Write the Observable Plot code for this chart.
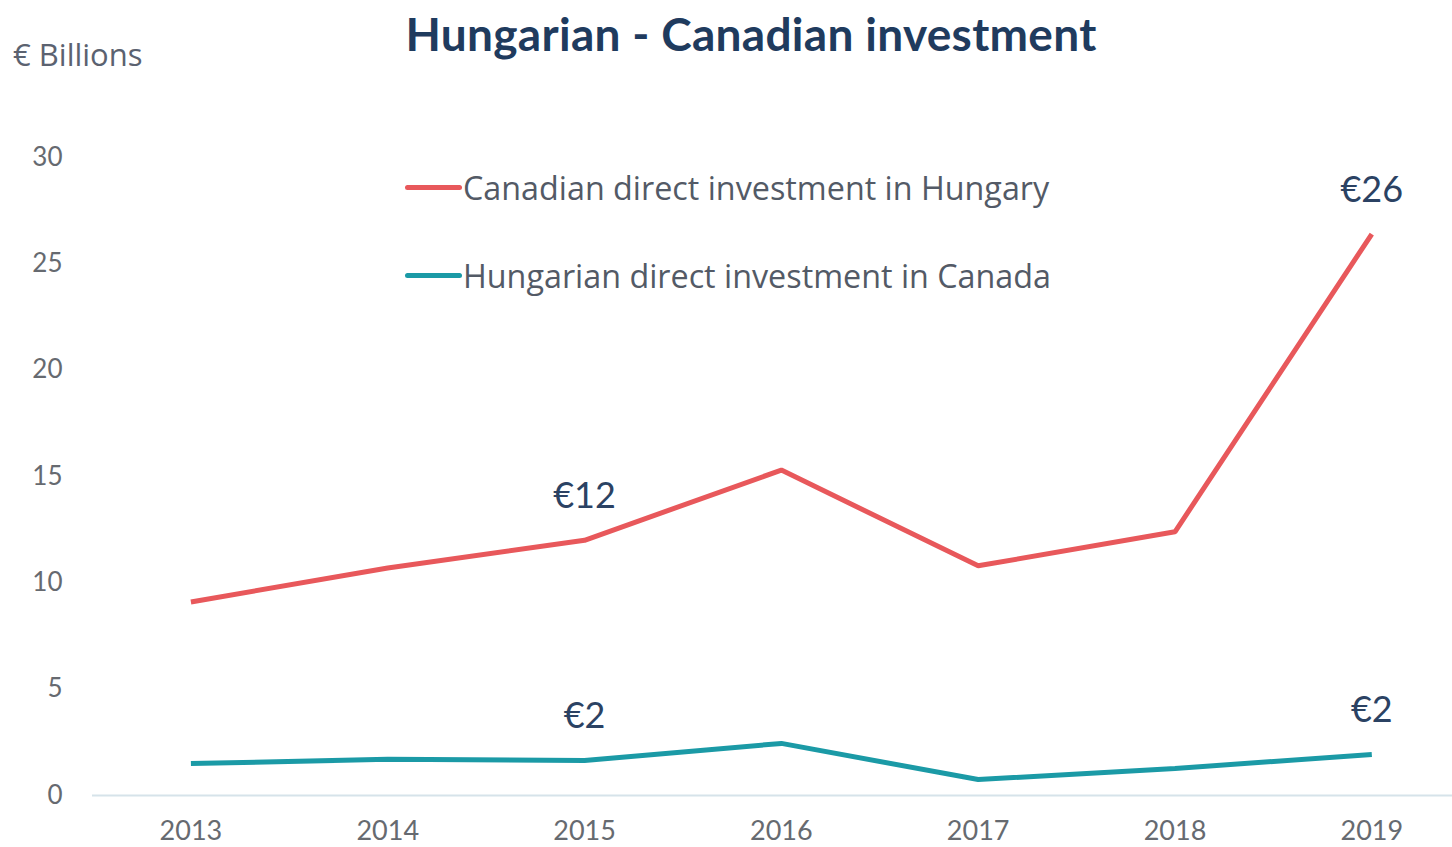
<!DOCTYPE html>
<html>
<head>
<meta charset="utf-8">
<script src="https://cdn.jsdelivr.net/npm/d3@7"></script>
<script src="https://cdn.jsdelivr.net/npm/@observablehq/plot@0.6"></script>
<style>
  body { margin: 0; background: #fff; }
  #wrap { position: relative; width: 1452px; height: 847px; overflow: hidden; font-family: Lato, "Open Sans", sans-serif; }
  #wrap svg { position: absolute; left: 0; top: 0; }
  .title { position: absolute; left: 0; width: 1502px; top: 6px; text-align: center; font-size: 46px; font-weight: 700; color: #1f3b5e; letter-spacing: 0.3px; }
  .ylab { position: absolute; left: 13px; top: 33px; font-family: "Open Sans", sans-serif; font-size: 31px; color: #5b6270; }
  .leg { position: absolute; left: 405px; display: flex; align-items: center; font-family: "Open Sans", sans-serif; font-size: 32.3px; color: #535a66; }
  .leg span.sw { display: inline-block; width: 57px; height: 5px; border-radius: 3px; margin-right: 1px; }
</style>
</head>
<body>
<div id="wrap">
  <div class="title">Hungarian - Canadian investment</div>
  <div class="ylab">€ Billions</div>
</div>
<script>
const years = [2013, 2014, 2015, 2016, 2017, 2018, 2019];
const canadianInHungary = [9.1, 10.7, 12.0, 15.3, 10.8, 12.4, 26.4];
const hungarianInCanada = [1.5, 1.7, 1.65, 2.45, 0.75, 1.27, 1.93];
const seriesNames = ["Canadian direct investment in Hungary", "Hungarian direct investment in Canada"];
const seriesColors = ["#e8585b", "#1b9aa6"];
const yTicks = [0, 5, 10, 15, 20, 25, 30];
// value labels: series index, year, text
const annotSeries = [0, 0, 1, 1];
const annotYears = [2015, 2019, 2015, 2019];
const annotText = ["€12", "€26", "€2", "€2"];

const rows = [];
years.forEach((yr, i) => {
  rows.push({year: yr, value: canadianInHungary[i], series: seriesNames[0]});
  rows.push({year: yr, value: hungarianInCanada[i], series: seriesNames[1]});
});
const seriesValues = [canadianInHungary, hungarianInCanada];
const annots = annotText.map((t, i) => ({
  year: annotYears[i],
  value: seriesValues[annotSeries[i]][years.indexOf(annotYears[i])],
  text: t
}));

const chart = Plot.plot({
  width: 1452,
  height: 847,
  marginLeft: 92,
  marginRight: 0,
  marginTop: 157,
  marginBottom: 52,
  style: {fontFamily: "Lato, 'Open Sans', sans-serif", background: "transparent"},
  x: {domain: [2012.5, 2019.41], ticks: years, tickFormat: d => String(d), tickSize: 0, tickPadding: 25, label: null},
  y: {domain: [0, 30], ticks: yTicks, tickSize: 0, tickPadding: 30, label: null},
  color: {domain: seriesNames, range: seriesColors},
  marks: [
    Plot.ruleY([0], {stroke: "#d6e3ea", strokeWidth: 2}),
    Plot.axisX({ticks: years, tickFormat: d => String(d), tickSize: 0, tickPadding: 25, fontSize: 27, fill: "#666a70", label: null}),
    Plot.axisY({ticks: yTicks, tickSize: 0, tickPadding: 30, fontSize: 26, fill: "#666a70", label: null}),
    Plot.line(rows, {x: "year", y: "value", z: "series", stroke: "series", strokeWidth: 5, strokeLinejoin: "miter", strokeLinecap: "butt"}),
    Plot.text(annots, {x: "year", y: "value", text: "text", dy: -44, fontSize: 36, fill: "#2b4263"})
  ]
});
const wrap = document.getElementById("wrap");
wrap.insertBefore(chart, wrap.firstChild);

const legendTops = [165, 253];
seriesNames.forEach((name, i) => {
  const d = document.createElement("div");
  d.className = "leg";
  d.style.top = legendTops[i] + "px";
  d.innerHTML = `<span class="sw" style="background:${seriesColors[i]}"></span><span>${name}</span>`;
  wrap.appendChild(d);
});
</script>
</body>
</html>
